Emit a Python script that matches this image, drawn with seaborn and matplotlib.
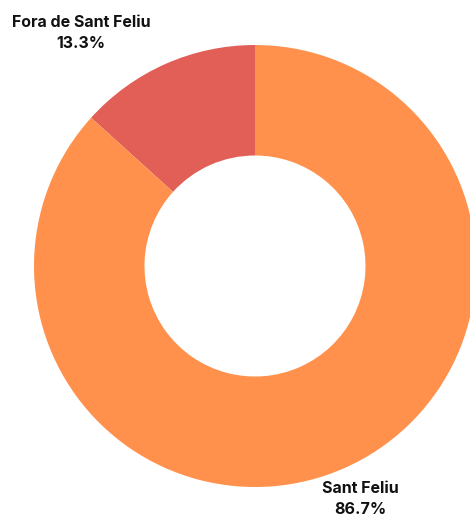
import matplotlib
matplotlib.use("Agg")
import matplotlib.pyplot as plt
import seaborn as sns

labels = ["Fora de Sant Feliu", "Sant Feliu"]
values = [13.3, 86.7]
colors = ["#E15F57", "#FF914D"]

sns.set_theme(style="white")
plt.rcParams['font.family'] = ['Inter', 'DejaVu Sans']

W, H = 470, 517
fig = plt.figure(figsize=(W / 100, H / 100), dpi=100)
ax = fig.add_axes([0, 0, 1, 1])

# pie in pixel coordinates (y up)
cx, cy, r = 255, H - 266, 221
ax.pie(values, colors=colors, startangle=90, counterclock=True,
       center=(cx, cy), radius=r, frame=True,
       wedgeprops=dict(width=r * 0.5, linewidth=0))
ax.set_xlim(0, W)
ax.set_ylim(0, H)
ax.set_aspect("equal")
ax.axis("off")

pos = [(81, H - 33), (360, H - 499)]
for lab, v, (x, y) in zip(labels, values, pos):
    ax.text(x, y, f"{lab}\n{v:.1f}%", ha="center", va="center",
            fontsize=11.5, fontweight="bold", color="#111111", linespacing=1.45)

fig.savefig("out.png", dpi=100)
